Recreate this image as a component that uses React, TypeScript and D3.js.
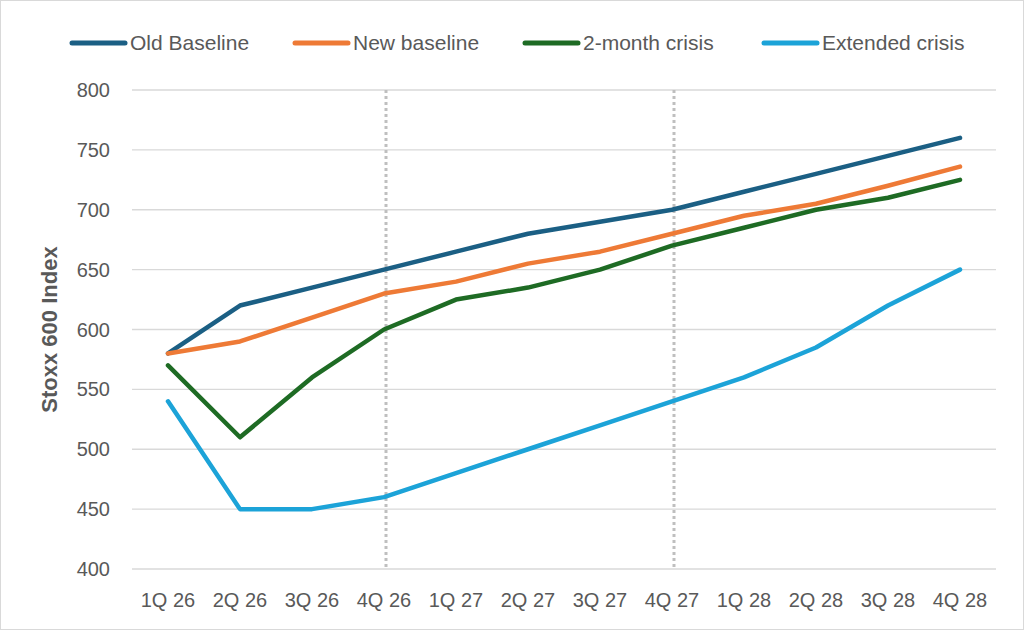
import { useEffect, useRef } from 'react';
import * as d3 from 'd3';

const quarters = ['1Q 26', '2Q 26', '3Q 26', '4Q 26', '1Q 27', '2Q 27', '3Q 27', '4Q 27', '1Q 28', '2Q 28', '3Q 28', '4Q 28'];
const oldBaseline = [580, 620, 635, 650, 665, 680, 690, 700, 715, 730, 745, 760];
const newBaseline = [580, 590, 610, 630, 640, 655, 665, 680, 695, 705, 720, 736];
const twoMonthCrisis = [570, 510, 560, 600, 625, 635, 650, 670, 685, 700, 710, 725];
const extendedCrisis = [540, 450, 450, 460, 480, 500, 520, 540, 560, 585, 620, 650];
const yTicks = [400, 450, 500, 550, 600, 650, 700, 750, 800];
const markerQuarters = ['4Q 26', '4Q 27'];

const series = [
  { name: 'Old Baseline', values: oldBaseline, color: '#1B5F84' },
  { name: 'New baseline', values: newBaseline, color: '#EE7A36' },
  { name: '2-month crisis', values: twoMonthCrisis, color: '#1E6B24' },
  { name: 'Extended crisis', values: extendedCrisis, color: '#1CA3D8' },
];

export default function App() {
  const svgRef = useRef<SVGSVGElement>(null);

  useEffect(() => {
    if (!svgRef.current) return;
    const W = 1024;
    const H = 630;
    const svg = d3.select(svgRef.current);
    svg.selectAll('*').remove();
    svg.attr('width', W).attr('height', H);

    const margin = { top: 90, right: 28, bottom: 61, left: 132 };
    const innerW = W - margin.left - margin.right;
    const innerH = H - margin.top - margin.bottom;
    const font = 'Liberation Sans, Arial, sans-serif';

    svg.append('rect')
      .attr('x', 0.5).attr('y', 0.5)
      .attr('width', W - 1).attr('height', H - 1)
      .attr('fill', '#fff').attr('stroke', '#D9D9D9');

    const g = svg.append('g').attr('transform', `translate(${margin.left},${margin.top})`);

    const x = d3.scaleBand().domain(quarters).range([0, innerW]);
    const y = d3.scaleLinear().domain([400, 800]).range([innerH, 0]);
    const cx = (q: string) => (x(q) || 0) + x.bandwidth() / 2;

    // gridlines
    g.append('g')
      .selectAll('line')
      .data(yTicks)
      .enter().append('line')
      .attr('x1', 0).attr('x2', innerW)
      .attr('y1', d => y(d)).attr('y2', d => y(d))
      .attr('stroke', '#D9D9D9').attr('stroke-width', 1.3);

    // y labels
    g.append('g')
      .selectAll('text')
      .data(yTicks)
      .enter().append('text')
      .attr('x', -22).attr('y', d => y(d))
      .attr('dy', '0.35em')
      .attr('text-anchor', 'end')
      .attr('font-family', font)
      .attr('font-size', 20)
      .attr('fill', '#595959')
      .text(d => d);

    // x labels
    g.append('g')
      .selectAll('text')
      .data(quarters)
      .enter().append('text')
      .attr('x', d => cx(d)).attr('y', innerH + 38)
      .attr('text-anchor', 'middle')
      .attr('font-family', font)
      .attr('font-size', 20)
      .attr('fill', '#595959')
      .text(d => d);

    // y title
    svg.append('text')
      .attr('transform', `translate(57,${margin.top + innerH / 2}) rotate(-90)`)
      .attr('text-anchor', 'middle')
      .attr('font-family', font)
      .attr('font-weight', 'bold')
      .attr('font-size', 22)
      .attr('fill', '#595959')
      .text('Stoxx 600 Index');

    // dotted markers
    g.append('g')
      .selectAll('line')
      .data(markerQuarters)
      .enter().append('line')
      .attr('x1', d => cx(d) + 2).attr('x2', d => cx(d) + 2)
      .attr('y1', 0).attr('y2', innerH)
      .attr('stroke', '#BFBFBF').attr('stroke-width', 3)
      .attr('stroke-dasharray', '3,3');

    const line = d3.line<number>()
      .x((_, i) => cx(quarters[i]))
      .y(d => y(d));

    g.append('g')
      .selectAll('path')
      .data(series)
      .enter().append('path')
      .attr('d', d => line(d.values))
      .attr('fill', 'none')
      .attr('stroke', d => d.color)
      .attr('stroke-width', 4.5)
      .attr('stroke-linejoin', 'round')
      .attr('stroke-linecap', 'round');

    // legend
    const legendX = [72, 295, 525, 764];
    const legend = svg.append('g')
      .selectAll('g')
      .data(series)
      .enter().append('g')
      .attr('transform', (_, i) => `translate(${legendX[i]},43)`);
    legend.append('line')
      .attr('x1', 0).attr('x2', 53)
      .attr('stroke', d => d.color).attr('stroke-width', 5)
      .attr('stroke-linecap', 'round');
    legend.append('text')
      .attr('x', 58).attr('dy', '0.35em')
      .attr('font-family', font)
      .attr('font-size', 21)
      .attr('fill', '#595959')
      .text(d => d.name);
  }, []);

  return (
    <div style={{ position: 'absolute', top: 0, left: 0 }}>
      <svg ref={svgRef} style={{ display: 'block' }} />
    </div>
  );
}
